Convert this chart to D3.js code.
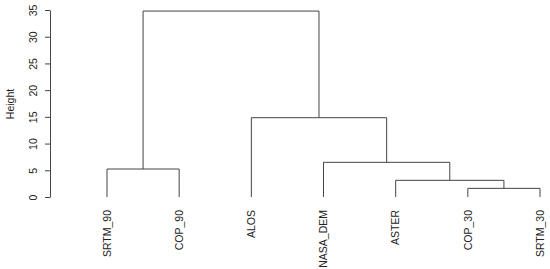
<!DOCTYPE html>
<html>
<head>
<meta charset="utf-8">
<script src="https://cdn.jsdelivr.net/npm/d3@7"></script>
<style>
  body { margin: 0; background: #fff; }
  text { font-family: "Liberation Sans", Arial, sans-serif; fill: #222; }
</style>
</head>
<body>
<script>
// leaf labels, in the order they are drawn
var labels = ["SRTM_90", "COP_90", "ALOS", "NASA_DEM", "ASTER", "COP_30", "SRTM_30"];

// merges like R's hclust: negative = leaf (1-based), positive = earlier merge
var merges = [[-6, -7], [-5, 1], [-1, -2], [-4, 2], [-3, 4], [3, 5]];
var heights = [1.62, 3.12, 5.24, 6.49, 14.84, 34.8];

var yTicks = [0, 5, 10, 15, 20, 25, 30, 35];

var width = 550, height = 269;

var svg = d3.select("body").append("svg")
    .attr("width", width)
    .attr("height", height);

var x = d3.scalePoint()
    .domain(labels)
    .range([107, 540]);

var y = d3.scaleLinear()
    .domain([0, 35])
    .range([197, 10]);

// build nested tree from merge table
var nodes = [];
function getNode(id) {
  if (id < 0) return { name: labels[-id - 1], h: 0 };
  return nodes[id - 1];
}
merges.forEach(function(m, i) {
  nodes.push({ h: heights[i], children: [getNode(m[0]), getNode(m[1])] });
});

var root = d3.hierarchy(nodes[nodes.length - 1]);

// x positions: leaves from scale, inner nodes at midpoint of children
root.eachAfter(function(d) {
  if (!d.children) d.px = x(d.data.name);
  else d.px = (d.children[0].px + d.children[1].px) / 2;
});

// branches
svg.append("g")
    .selectAll("path")
    .data(root.descendants().filter(function(d) { return d.children; }))
    .enter()
    .append("path")
    .attr("d", function(d) {
      var a = d.children[0], b = d.children[1];
      return "M" + a.px + "," + y(a.data.h) +
        "V" + y(d.data.h) +
        "H" + b.px +
        "V" + y(b.data.h);
    })
    .attr("fill", "none")
    .attr("stroke", "#444")
    .attr("stroke-width", 1);

// leaf labels, rotated
svg.append("g")
    .selectAll("text")
    .data(root.leaves())
    .enter()
    .append("text")
    .attr("transform", function(d) {
      return "translate(" + d.px + ",210) rotate(-90)";
    })
    .attr("dy", "0.35em")
    .attr("text-anchor", "end")
    .style("font-size", "10.5px")
    .text(function(d) { return d.data.name; });

// y axis
var axis = svg.append("g")
    .attr("transform", "translate(50,0)")
    .call(d3.axisLeft(y).tickValues(yTicks).tickSize(5).tickSizeOuter(0));

axis.select(".domain").attr("stroke", "#444");
axis.selectAll(".tick line").attr("stroke", "#444");
axis.selectAll(".tick text")
    .attr("x", null)
    .attr("dy", "0.35em")
    .attr("transform", "translate(-17,0) rotate(-90)")
    .attr("text-anchor", "middle")
    .style("font-size", "10.5px")
    .style("font-family", "Liberation Sans, Arial, sans-serif")
    .attr("fill", "#222");

svg.append("text")
    .attr("transform", "translate(10,104) rotate(-90)")
    .attr("dy", "0.35em")
    .attr("text-anchor", "middle")
    .style("font-size", "10.5px")
    .text("Height");
</script>
</body>
</html>
